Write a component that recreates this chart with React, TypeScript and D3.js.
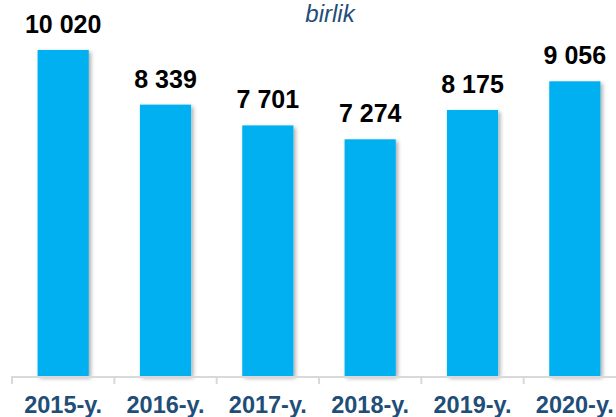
import React, { useEffect, useRef } from "react";
import * as d3 from "d3";

const years = ["2015-y.", "2016-y.", "2017-y.", "2018-y.", "2019-y.", "2020-y."];
const values = [10020, 8339, 7701, 7274, 8175, 9056];
const valueLabels = ["10 020", "8 339", "7 701", "7 274", "8 175", "9 056"];
const unit = "birlik";

const App = () => {
  const svgRef = useRef<SVGSVGElement>(null);

  useEffect(() => {
    const w = 616;
    const h = 417;
    const baseY = 376;
    const svg = d3.select(svgRef.current).attr("width", w).attr("height", h);
    svg.selectAll("*").remove();

    const defs = svg.append("defs");
    const f = defs
      .append("filter")
      .attr("id", "shadow")
      .attr("x", "-20%")
      .attr("y", "-10%")
      .attr("width", "150%")
      .attr("height", "130%");
    f.append("feDropShadow")
      .attr("dx", 2)
      .attr("dy", 2)
      .attr("stdDeviation", 2)
      .attr("flood-color", "#000")
      .attr("flood-opacity", 0.35);

    const x = d3
      .scaleBand()
      .domain(years)
      .range([12, 626])
      .paddingInner(0.5)
      .paddingOuter(0.25);
    const y = d3.scaleLinear().domain([0, 11555]).range([baseY, 0]);

    svg
      .selectAll(".bar")
      .data(values)
      .join("rect")
      .attr("class", "bar")
      .attr("x", (d, i) => x(years[i])!)
      .attr("y", (d) => y(d))
      .attr("width", x.bandwidth())
      .attr("height", (d) => baseY - y(d))
      .attr("fill", "#00B0F0")
      .attr("filter", "url(#shadow)");

    // axis line + ticks
    svg
      .append("line")
      .attr("x1", 12)
      .attr("x2", w)
      .attr("y1", baseY + 1)
      .attr("y2", baseY + 1)
      .attr("stroke", "#D9D9D9")
      .attr("stroke-width", 2);
    const step = x.step();
    svg
      .selectAll(".tick")
      .data(d3.range(years.length + 1))
      .join("line")
      .attr("class", "tick")
      .attr("x1", (i) => 12 + i * step)
      .attr("x2", (i) => 12 + i * step)
      .attr("y1", baseY)
      .attr("y2", baseY + 8)
      .attr("stroke", "#D9D9D9")
      .attr("stroke-width", 2);

    svg
      .selectAll(".cat")
      .data(years)
      .join("text")
      .attr("class", "cat")
      .attr("x", (d) => x(d)! + x.bandwidth() / 2)
      .attr("y", 413)
      .attr("text-anchor", "middle")
      .attr("font-family", "Arial, 'Liberation Sans', sans-serif")
      .attr("font-weight", "bold")
      .attr("font-size", 23.5)
      .attr("fill", "#1F4E79")
      .text((d) => d);

    svg
      .selectAll(".val")
      .data(values)
      .join("text")
      .attr("class", "val")
      .attr("x", (d, i) => x(years[i])! + x.bandwidth() / 2)
      .attr("y", (d) => y(d) - 17)
      .attr("text-anchor", "middle")
      .attr("font-family", "Arial, 'Liberation Sans', sans-serif")
      .attr("font-weight", "bold")
      .attr("font-size", 25)
      .attr("fill", "#000")
      .text((d, i) => valueLabels[i]);

    svg
      .append("text")
      .attr("x", 330)
      .attr("y", 22)
      .attr("text-anchor", "middle")
      .attr("font-family", "Arial, 'Liberation Sans', sans-serif")
      .attr("font-style", "italic")
      .attr("font-size", 24)
      .attr("fill", "#1F4E79")
      .text(unit);
  }, []);

  return (
    <div style={{ position: "absolute", left: 0, top: 0 }}>
      <svg ref={svgRef}></svg>
    </div>
  );
};

export default App;
